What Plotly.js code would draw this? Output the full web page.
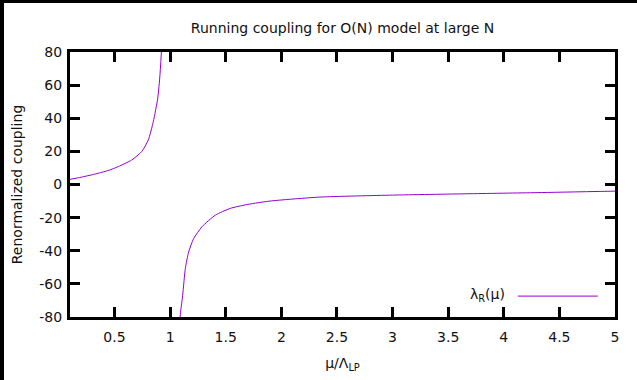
<!DOCTYPE html>
<html>
<head>
<meta charset="utf-8">
<script src="https://cdn.plot.ly/plotly-3.0.1.min.js"></script>
<style>
html, body { margin:0; padding:0; background:#000; width:637px; height:380px; overflow:hidden; }
#chart { position:absolute; left:4px; top:3px; width:633px; height:377px; background:#fff; }
</style>
</head>
<body>
<div id="chart"></div>
<script>
// Values
const muBelowPole = [0.1, 0.2, 0.3, 0.354, 0.45, 0.534, 0.655, 0.745, 0.804, 0.849, 0.889, 0.909, 0.93];
const lambdaBelowPole = [3.1, 4.4, 5.9, 6.8, 8.6, 10.8, 14.8, 19.9, 26.9, 38, 52.2, 66.3, 90];
const muAbovePole = [1.08, 1.092, 1.113, 1.137, 1.167, 1.212, 1.287, 1.407, 1.542, 1.7, 1.899, 2.348, 3.0, 3.67, 4.3, 5.0];
const lambdaAbovePole = [-95, -78.5, -66.9, -50.7, -40.7, -32.6, -25.5, -18.5, -14.4, -12, -10, -7.6, -6.4, -5.6, -4.9, -4.0];
const yTicks = [-80, -60, -40, -20, 0, 20, 40, 60, 80];
const yTickText = ['-80', '-60', '-40', '-20', '0', '20', '40', '60', '80'];
const xTicks = [0.5, 1, 1.5, 2, 2.5, 3, 3.5, 4, 4.5, 5];
const xTickText = ['0.5', '1', '1.5', '2', '2.5', '3', '3.5', '4', '4.5', '5'];

const mu = muBelowPole.concat([null], muAbovePole);
const lam = lambdaBelowPole.concat([null], lambdaAbovePole);

const font = {family: 'DejaVu Sans, sans-serif', size: 14, color: '#111'};

const trace = {
  x: mu, y: lam, mode: 'lines', name: '',
  connectgaps: false,
  line: {color: '#9400D3', width: 1, shape: 'spline', smoothing: 0.6},
  showlegend: true
};

const axisCommon = {
  showgrid: false, zeroline: false,
  showline: true, linecolor: '#000', linewidth: 3,
  mirror: 'ticks', ticks: 'inside', ticklen: 10, tickwidth: 3, tickcolor: '#000',
  tickfont: font
};

const layout = {
  width: 633, height: 377,
  margin: {l: 66, r: 22, t: 49, b: 63},
  paper_bgcolor: '#fff', plot_bgcolor: '#fff',
  font: font,
  title: {text: 'Running coupling for O(N) model at large N', font: font,
          x: 0.5, xref: 'paper', y: 1 - 25/377, yref: 'container', yanchor: 'middle'},
  xaxis: Object.assign({}, axisCommon, {
    range: [0.1, 5], tickvals: xTicks, ticktext: xTickText,
    ticklabelstandoff: 5,
    title: {text: 'μ/Λ<sub>LP</sub>', font: font, standoff: 15}
  }),
  yaxis: Object.assign({}, axisCommon, {
    range: [-80, 80], tickvals: yTicks, ticktext: yTickText,
    ticklabelstandoff: 2,
    title: {text: 'Renormalized coupling', font: font, standoff: 14}
  }),
  showlegend: true,
  legend: {
    x: 0.987, xanchor: 'right', y: 0.017, yanchor: 'bottom',
    bgcolor: 'rgba(0,0,0,0)', borderwidth: 0,
    itemwidth: 80,
    title: {text: 'λ<sub>R</sub>(μ)', side: 'left', font: font},
    font: font
  }
};

Plotly.newPlot('chart', [trace], layout, {displayModeBar: false, staticPlot: true});
</script>
</body>
</html>
